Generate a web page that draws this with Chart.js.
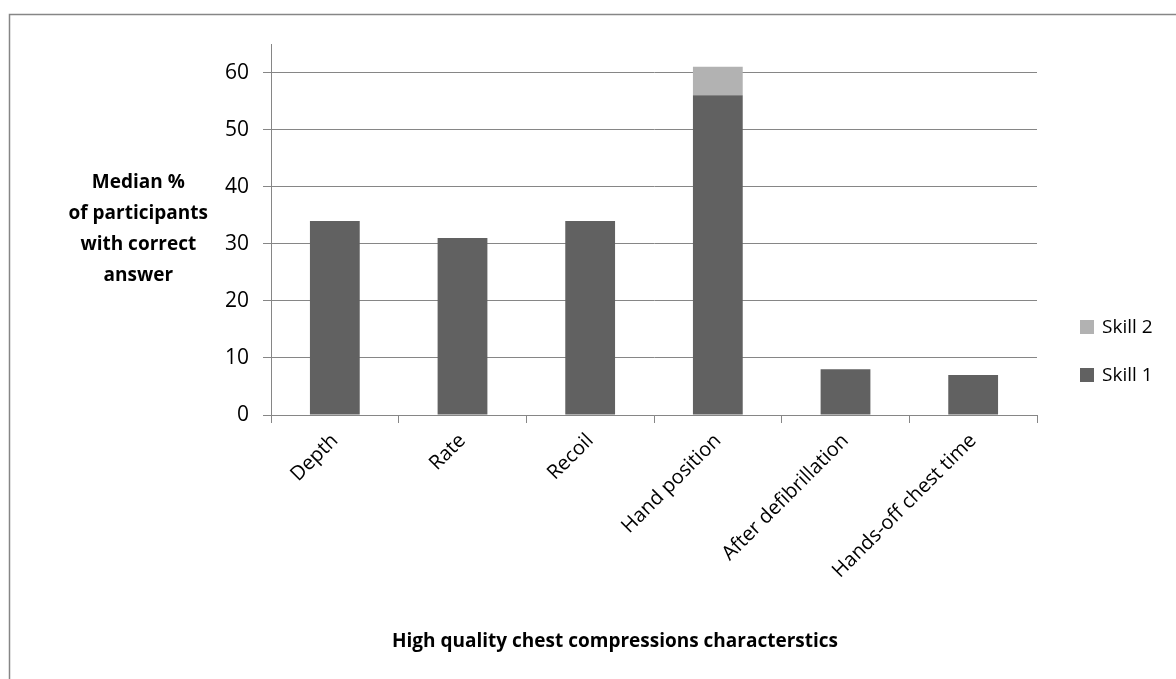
<!DOCTYPE html>
<html>
<head>
<meta charset="utf-8">
<script src="https://cdn.jsdelivr.net/npm/chart.js@4"></script>
<style>
  html, body { margin: 0; padding: 0; background: #fff; }
  #wrap { width: 1176px; height: 679px; position: relative; }
</style>
</head>
<body>
<div id="wrap"><canvas id="myBarChart" width="1176" height="679"></canvas></div>
<script>
var Labels = ['Depth', 'Rate', 'Recoil', 'Hand position', 'After defibrillation', 'Hands-off chest time'];
var Skill1Values = [34, 31, 34, 56, 8, 7];
var Skill2Values = [0, 0, 0, 5, 0, 0];
var YTitleLines = ['Median %', 'of participants', 'with correct', 'answer'];
var XTitle = 'High quality chest compressions characterstics';

var FONT = '"Open Sans", "Liberation Sans", sans-serif';
var AXIS_GREY = '#868686';

// frame, y title, x title and legend are drawn by hand, like Excel lays them out
var excelBits = {
    id: 'excelBits',
    beforeDraw: function (chart) {
        var ctx = chart.ctx;
        ctx.save();
        ctx.strokeStyle = AXIS_GREY;
        ctx.lineWidth = 1.5;
        ctx.strokeRect(9.5, 14.5, 1400, 900);
        ctx.restore();
    },
    afterDraw: function (chart) {
        var ctx = chart.ctx;
        ctx.save();
        ctx.fillStyle = '#000';
        ctx.font = 'bold 19px ' + FONT;
        ctx.textAlign = 'center';
        ctx.textBaseline = 'middle';
        var widest = 0;
        YTitleLines.forEach(function (l) { widest = Math.max(widest, ctx.measureText(l).width); });
        var cx = 208 - widest / 2;
        YTitleLines.forEach(function (l, i) { ctx.fillText(l, cx, 183 + i * 31); });

        ctx.fillText(XTitle, 615, 642);

        // legend, reversed like the stack
        ctx.font = '19px ' + FONT;
        ctx.textAlign = 'left';
        var sets = chart.data.datasets.slice().reverse();
        sets.forEach(function (ds, i) {
            var y = 327 + i * 48;
            ctx.fillStyle = ds.backgroundColor;
            ctx.fillRect(1080, y - 7, 14, 14);
            ctx.fillStyle = '#000';
            ctx.fillText(ds.label, 1102, y + 1);
        });
        ctx.restore();
    }
};

var ctx = document.getElementById('myBarChart');

var myChart = new Chart(ctx, {
    type: 'bar',
    data: {
        labels: Labels,
        datasets: [{
            label: 'Skill 1',
            data: Skill1Values,
            backgroundColor: '#616161',
            barPercentage: 0.39,
            categoryPercentage: 1
        }, {
            label: 'Skill 2',
            data: Skill2Values,
            backgroundColor: '#b2b2b2',
            barPercentage: 0.39,
            categoryPercentage: 1
        }]
    },
    plugins: [excelBits],
    options: {
        responsive: false,
        animation: false,
        layout: { padding: { top: 44, right: 139, left: 0, bottom: 0 } },
        plugins: {
            legend: { display: false },
            tooltip: { enabled: false }
        },
        scales: {
            x: {
                stacked: true,
                grid: { drawOnChartArea: false, color: AXIS_GREY, tickLength: 8, lineWidth: 1 },
                border: { color: AXIS_GREY, width: 1 },
                ticks: {
                    color: '#000',
                    font: { family: FONT, size: 20 },
                    minRotation: 45,
                    maxRotation: 45,
                    padding: 6
                },
                afterFit: function (scale) { scale.height = 679 - 415; }
            },
            y: {
                stacked: true,
                min: 0,
                max: 65,
                grid: { color: AXIS_GREY, tickLength: 8, lineWidth: 1 },
                border: { color: AXIS_GREY, width: 1 },
                ticks: {
                    stepSize: 10,
                    color: '#000',
                    font: { family: FONT, size: 21 },
                    padding: 14
                },
                afterBuildTicks: function (scale) {
                    scale.ticks = scale.ticks.filter(function (t) { return t.value <= 60; });
                },
                afterFit: function (scale) { scale.width = 271; }
            }
        }
    }
});
</script>
</body>
</html>
